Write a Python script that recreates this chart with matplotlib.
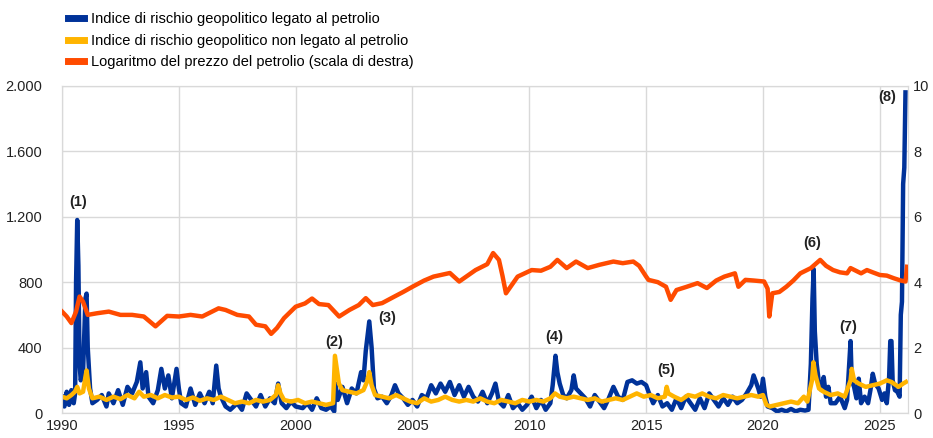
import matplotlib.pyplot as plt
from matplotlib.lines import Line2D
from matplotlib.ticker import FuncFormatter

# Indice di rischio geopolitico legato al petrolio (scala di sinistra)
oil_gpr_t = [
    1990.0, 1990.1, 1990.2, 1990.3, 1990.4, 1990.5, 1990.56, 1990.6, 1990.65, 1990.7,
    1990.75, 1990.8, 1990.9, 1991.0, 1991.05, 1991.1, 1991.2, 1991.3, 1991.5, 1991.7,
    1991.9, 1992.0, 1992.2, 1992.4, 1992.6, 1992.8, 1993.0, 1993.2, 1993.35, 1993.45,
    1993.6, 1993.7, 1993.9, 1994.1, 1994.25, 1994.4, 1994.55, 1994.7, 1994.9, 1995.0,
    1995.1, 1995.3, 1995.5, 1995.7, 1995.9, 1996.1, 1996.3, 1996.45, 1996.6, 1996.7,
    1996.8, 1997.0, 1997.2, 1997.5, 1997.7, 1997.9, 1998.1, 1998.3, 1998.5, 1998.7,
    1998.9, 1999.1, 1999.25, 1999.4, 1999.6, 1999.8, 2000.0, 2000.3, 2000.5, 2000.7,
    2000.9, 2001.1, 2001.3, 2001.5, 2001.65, 2001.7, 2001.8, 2002.0, 2002.2, 2002.4,
    2002.6, 2002.8, 2002.9, 2003.0, 2003.15, 2003.25, 2003.35, 2003.5, 2003.7, 2003.9,
    2004.1, 2004.25, 2004.4, 2004.6, 2004.8, 2005.0, 2005.2, 2005.4, 2005.6, 2005.8,
    2006.0, 2006.2, 2006.4, 2006.6, 2006.8, 2007.0, 2007.2, 2007.4, 2007.6, 2007.8,
    2008.0, 2008.2, 2008.4, 2008.55, 2008.7, 2008.9, 2009.1, 2009.3, 2009.5, 2009.7,
    2009.9, 2010.1, 2010.3, 2010.5, 2010.7, 2010.9, 2011.0, 2011.12, 2011.2, 2011.3,
    2011.45, 2011.6, 2011.8, 2011.9, 2012.0, 2012.2, 2012.4, 2012.6, 2012.8, 2013.0,
    2013.2, 2013.4, 2013.6, 2013.8, 2014.0, 2014.2, 2014.4, 2014.6, 2014.8, 2015.0,
    2015.1, 2015.3, 2015.5, 2015.7, 2015.9, 2016.1, 2016.3, 2016.5, 2016.7, 2016.9,
    2017.1, 2017.3, 2017.5, 2017.7, 2017.9, 2018.1, 2018.3, 2018.5, 2018.7, 2018.9,
    2019.1, 2019.3, 2019.5, 2019.6, 2019.8, 2019.9, 2020.0, 2020.1, 2020.2, 2020.4,
    2020.6, 2020.8, 2021.0, 2021.2, 2021.4, 2021.6, 2021.8, 2021.95, 2022.05, 2022.12,
    2022.17, 2022.22, 2022.3, 2022.4, 2022.5, 2022.6, 2022.7, 2022.8, 2022.9, 2023.1,
    2023.3, 2023.5, 2023.6, 2023.75, 2023.8, 2023.9, 2024.0, 2024.1, 2024.2, 2024.35,
    2024.5, 2024.6, 2024.7, 2024.8, 2024.95, 2025.1, 2025.2, 2025.3, 2025.4, 2025.45,
    2025.5, 2025.55, 2025.65, 2025.75, 2025.85, 2025.9, 2025.95, 2026.0, 2026.05, 2026.1,
]
oil_gpr = [
    100, 40, 130, 50, 140, 60, 120, 800, 1180, 900,
    300, 200, 250, 700, 730, 400, 150, 60, 80, 110,
    40, 120, 60, 140, 50, 160, 120, 190, 310, 150,
    250, 100, 60, 140, 270, 150, 230, 90, 270, 150,
    60, 40, 150, 50, 120, 60, 130, 60, 290, 150,
    100, 40, 20, 60, 20, 120, 80, 40, 110, 40,
    90, 60, 180, 60, 30, 70, 40, 30, 60, 20,
    90, 30, 20, 40, 10, 180, 80, 160, 60, 150,
    120, 250, 200, 380, 560, 400, 150, 90, 100, 60,
    110, 170, 120, 90, 50, 80, 40, 110, 90, 170,
    120, 180, 130, 190, 110, 170, 100, 160, 100, 70,
    130, 60, 120, 180, 70, 40, 110, 30, 60, 20,
    50, 100, 30, 80, 20, 60, 170, 350, 250, 180,
    110, 90, 140, 230, 150, 120, 90, 40, 110, 70,
    30, 90, 160, 100, 80, 190, 200, 180, 190, 170,
    130, 60, 110, 40, 60, 20, 90, 30, 100, 60,
    20, 90, 30, 120, 80, 40, 90, 50, 100, 60,
    80, 120, 170, 230, 150, 100, 210, 100, 40, 30,
    10, 20, 10, 25, 10, 20, 15, 20, 300, 700,
    880, 500, 300, 180, 140, 220, 100, 160, 60, 60,
    100, 30, 80, 440, 200, 160, 90, 210, 60, 100,
    60, 140, 240, 180, 150, 80, 120, 60, 220, 440,
    440, 200, 140, 130, 100, 600, 680, 1400, 1500, 1960,
]

# Indice di rischio geopolitico non legato al petrolio (scala di sinistra)
nonoil_gpr_t = [
    1990.0, 1990.2, 1990.4, 1990.55, 1990.65, 1990.75, 1990.9, 1991.0, 1991.05, 1991.15,
    1991.3, 1991.6, 1991.9, 1992.2, 1992.5, 1992.8, 1993.1, 1993.3, 1993.5, 1993.8,
    1994.1, 1994.4, 1994.7, 1995.0, 1995.3, 1995.6, 1995.9, 1996.2, 1996.5, 1996.8,
    1997.1, 1997.4, 1997.7, 1998.0, 1998.3, 1998.6, 1998.9, 1999.15, 1999.25, 1999.35,
    1999.5, 1999.8, 2000.1, 2000.4, 2000.7, 2001.0, 2001.3, 2001.6, 2001.68, 2001.75,
    2001.85, 2002.0, 2002.3, 2002.6, 2002.9, 2003.05, 2003.15, 2003.25, 2003.4, 2003.7,
    2004.0, 2004.3, 2004.6, 2004.9, 2005.2, 2005.5, 2005.8, 2006.1, 2006.4, 2006.7,
    2007.0, 2007.3, 2007.6, 2007.9, 2008.2, 2008.5, 2008.8, 2009.1, 2009.4, 2009.7,
    2010.0, 2010.3, 2010.6, 2010.9, 2011.1, 2011.3, 2011.6, 2011.9, 2012.2, 2012.5,
    2012.8, 2013.1, 2013.4, 2013.7, 2014.0, 2014.3, 2014.6, 2014.9, 2015.2, 2015.5,
    2015.8, 2015.88, 2015.95, 2016.2, 2016.5, 2016.8, 2017.1, 2017.4, 2017.7, 2018.0,
    2018.3, 2018.6, 2018.9, 2019.2, 2019.5, 2019.8, 2020.0, 2020.15, 2020.3, 2020.6,
    2020.9, 2021.2, 2021.5, 2021.75, 2021.9, 2022.1, 2022.16, 2022.25, 2022.4, 2022.6,
    2022.9, 2023.2, 2023.5, 2023.75, 2023.8, 2023.9, 2024.1, 2024.4, 2024.7, 2025.0,
    2025.3, 2025.5, 2025.8, 2026.0, 2026.12,
]
nonoil_gpr = [
    100, 90, 110, 130, 160, 120, 130, 220, 260, 150,
    90, 100, 80, 100, 85, 110, 90, 130, 100, 110,
    90, 110, 95, 100, 80, 95, 75, 90, 80, 100,
    80, 60, 70, 60, 80, 70, 80, 110, 170, 120,
    80, 70, 80, 60, 70, 60, 50, 60, 350, 280,
    180, 140, 130, 120, 140, 190, 250, 170, 110, 100,
    90, 110, 90, 70, 60, 90, 70, 80, 100, 80,
    70, 80, 70, 90, 70, 60, 80, 70, 60, 80,
    70, 80, 70, 90, 120, 100, 90, 100, 90, 80,
    90, 70, 80, 90, 80, 100, 120, 100, 110, 90,
    100, 160, 120, 100, 80, 110, 100, 120, 100, 90,
    110, 100, 90, 100, 110, 100, 110, 50, 40, 50,
    60, 70, 60, 100, 70, 200, 310, 230, 150, 130,
    110, 120, 100, 200, 270, 200, 180, 160, 170, 180,
    200, 190, 160, 180, 190,
]

# Logaritmo del prezzo del petrolio (scala di destra)
oil_price_t = [
    1990.0, 1990.2, 1990.4, 1990.6, 1990.75, 1990.9, 1991.1, 1991.5, 1992.0, 1992.5,
    1993.0, 1993.5, 1994.0, 1994.5, 1995.0, 1995.5, 1996.0, 1996.7, 1997.0, 1997.5,
    1998.0, 1998.3, 1998.7, 1998.95, 1999.2, 1999.5, 2000.0, 2000.4, 2000.7, 2001.0,
    2001.4, 2001.86, 2002.3, 2002.7, 2003.0, 2003.3, 2003.7, 2004.2, 2004.6, 2005.0,
    2005.5, 2005.9, 2006.6, 2007.0, 2007.7, 2008.2, 2008.45, 2008.7, 2008.85, 2009.0,
    2009.5, 2010.1, 2010.5, 2010.9, 2011.2, 2011.6, 2012.0, 2012.5, 2013.0, 2013.6,
    2014.0, 2014.45, 2014.7, 2015.0, 2015.1, 2015.5, 2015.85, 2016.05, 2016.3, 2016.7,
    2017.2, 2017.6, 2018.0, 2018.35, 2018.8, 2018.95, 2019.25, 2019.6, 2020.05, 2020.2,
    2020.27, 2020.4, 2020.7, 2021.0, 2021.3, 2021.6, 2022.05, 2022.45, 2022.7, 2023.0,
    2023.3, 2023.6, 2023.75, 2024.2, 2024.45, 2024.7, 2025.0, 2025.3, 2025.6, 2025.9,
    2026.1, 2026.17,
]
oil_price = [
    3.10, 2.95, 2.75, 3.10, 3.56, 3.40, 3.00, 3.05, 3.10, 3.00,
    3.00, 2.95, 2.65, 2.97, 2.95, 3.00, 2.95, 3.20, 3.15, 3.00,
    2.95, 2.70, 2.65, 2.42, 2.60, 2.90, 3.25, 3.35, 3.50, 3.33,
    3.30, 2.95, 3.15, 3.30, 3.51, 3.30, 3.36, 3.55, 3.70, 3.86,
    4.05, 4.17, 4.28, 4.02, 4.37, 4.55, 4.89, 4.68, 4.20, 3.66,
    4.17, 4.37, 4.35, 4.47, 4.68, 4.43, 4.63, 4.43, 4.53, 4.63,
    4.58, 4.63, 4.50, 4.17, 4.07, 4.00, 3.86, 3.46, 3.76, 3.85,
    3.97, 3.82, 4.05, 4.17, 4.27, 3.86, 4.07, 4.05, 4.02, 3.80,
    2.95, 3.66, 3.70, 3.86, 4.05, 4.27, 4.43, 4.68, 4.50, 4.37,
    4.30, 4.27, 4.43, 4.27, 4.37, 4.30, 4.22, 4.20, 4.12, 4.05,
    4.02, 4.47,
]

# Note numerate sul grafico: (etichetta, anno, valore di sinistra)
notes = [
    ("(1)", 1990.68, 1290), ("(2)", 2001.65, 434), ("(3)", 2003.92, 581),
    ("(4)", 2011.08, 465), ("(5)", 2015.87, 263), ("(6)", 2022.09, 1039),
    ("(7)", 2023.63, 526), ("(8)", 2025.3, 1933),
]

BLUE = "#003299"
YELLOW = "#ffb400"
ORANGE = "#ff4b00"
GRID = "#d9d9d9"
LW = 3.2

plt.rcParams["font.family"] = ["Liberation Sans", "DejaVu Sans"]
plt.rcParams["font.size"] = 10.5

fig = plt.figure(figsize=(9.33, 4.38), dpi=100)
ax = fig.add_axes([0.0665, 0.057, 0.9065, 0.747])
ax2 = ax.twinx()

ax.plot(oil_gpr_t, oil_gpr, color=BLUE, lw=LW, zorder=3, solid_joinstyle="round")
ax.plot(nonoil_gpr_t, nonoil_gpr, color=YELLOW, lw=LW, zorder=4, solid_joinstyle="round")
ax2.plot(oil_price_t, oil_price, color=ORANGE, lw=LW, zorder=5, solid_joinstyle="round")

# the orange series (right axis) is drawn above the two indices
ax2.set_zorder(ax.get_zorder() + 1)
ax2.patch.set_visible(False)

ax.set_xlim(1990, 2026.2)
ax.set_ylim(0, 2000)
ax2.set_ylim(0, 10)
ax.set_xticks(range(1990, 2030, 5))
ax.set_yticks(range(0, 2001, 400))
ax2.set_yticks(range(0, 11, 2))
ax.yaxis.set_major_formatter(FuncFormatter(lambda v, p: f"{int(v):,}".replace(",", ".")))

ax.grid(True, color=GRID, lw=1)
ax.set_axisbelow(True)
for a in (ax, ax2):
    for s in a.spines.values():
        s.set_color(GRID)
    a.tick_params(length=0, colors="#222222", labelsize=10.5)
ax.tick_params(axis="y", pad=14)
ax.tick_params(axis="x", pad=4)
ax2.tick_params(axis="y", pad=4)

for label, t, v in notes:
    ax2.text(t, v / 200, label, ha="center", va="center", fontsize=10.5,
             fontweight="bold", color="#222222", zorder=6)

handles = [Line2D([], [], color=c, lw=5) for c in (BLUE, YELLOW, ORANGE)]
labels = [
    "Indice di rischio geopolitico legato al petrolio",
    "Indice di rischio geopolitico non legato al petrolio",
    "Logaritmo del prezzo del petrolio (scala di destra)",
]
fig.legend(handles, labels, loc="upper left", bbox_to_anchor=(0.062, 0.995),
           frameon=False, fontsize=10.5, handlelength=1.1, handletextpad=0.5,
           labelspacing=0.5, borderaxespad=0.3)

fig.savefig("out.png", dpi=100)
